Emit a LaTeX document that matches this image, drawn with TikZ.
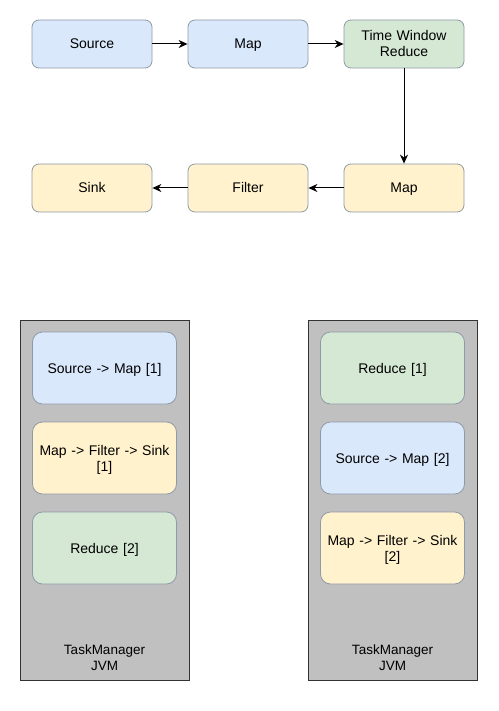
\documentclass[tikz,border=0pt]{standalone}
\usepackage{fontspec}
\setmainfont{Liberation Sans}
\usetikzlibrary{arrows.meta}
\definecolor{bluef}{HTML}{DAE8FC}
\definecolor{greenf}{HTML}{D5E8D4}
\definecolor{yellowf}{HTML}{FFF2CC}
\definecolor{boxd}{HTML}{8E9AA8}
\definecolor{tmf}{HTML}{C0C0C0}
\definecolor{tmd}{HTML}{333333}
\newcommand\mystrut{\rule[-4pt]{0pt}{18pt}}
\newcommand\mydepth{\rule[-4pt]{0pt}{4pt}}
\tikzset{
  op/.style={draw=boxd, line width=0.8pt, rounded corners=7pt, minimum width=120pt, minimum height=48pt, align=center, font=\fontsize{14}{16}\selectfont, inner sep=0pt, text width=116pt},
  slot/.style={draw=boxd, line width=0.8pt, rounded corners=10pt, minimum width=144pt, minimum height=72pt, align=center, font=\fontsize{14}{16}\selectfont, inner sep=0pt, text width=140pt},
  tm/.style={draw=tmd, line width=1pt, fill=tmf, minimum width=169pt, minimum height=360pt, inner sep=0pt},
  tmlabel/.style={align=center, font=\fontsize{13.5}{16}\selectfont, inner sep=0pt},
  flow/.style={-{Stealth[length=9pt,width=8pt]}, line width=1pt, black}
}
\begin{document}
\begin{tikzpicture}[x=1pt,y=-1pt]
\useasboundingbox (0,0) rectangle (498,711);
% top logical graph
\node[op, fill=bluef] (src) at (92,44) {\mystrut Source};
\node[op, fill=bluef] (map1) at (248,44) {\mystrut Map};
\node[op, fill=greenf] (twr) at (404,44) {\rule{0pt}{14pt}Time Window\\Reduce\mydepth};
\node[op, fill=yellowf] (map2) at (404,188) {\mystrut Map};
\node[op, fill=yellowf] (filt) at (248,188) {\mystrut Filter};
\node[op, fill=yellowf] (sink) at (92,188) {\mystrut Sink};
\draw[flow] (src) -- (map1);
\draw[flow] (map1) -- (twr);
\draw[flow] (twr) -- (map2);
\draw[flow] (map2) -- (filt);
\draw[flow] (filt) -- (sink);
% task managers
\node[tm] (tm1) at (104.5,500.5) {};
\node[tm] (tm2) at (392.5,500.5) {};
\node[tmlabel] (tm1l) at (104.5,658) {TaskManager\\JVM};
\node[tmlabel] (tm2l) at (392.5,658) {TaskManager\\JVM};
\node[slot, fill=bluef] (a1) at (104.5,368) {\mystrut Source -> Map [1]};
\node[slot, fill=yellowf] (a2) at (104.5,458) {\rule{0pt}{14pt}Map -> Filter -> Sink\\{}[1]\mydepth};
\node[slot, fill=greenf] (a3) at (104.5,548) {\mystrut Reduce [2]};
\node[slot, fill=greenf] (b1) at (392.5,368) {\mystrut Reduce [1]};
\node[slot, fill=bluef] (b2) at (392.5,458) {\mystrut Source -> Map [2]};
\node[slot, fill=yellowf] (b3) at (392.5,548) {\rule{0pt}{14pt}Map -> Filter -> Sink\\{}[2]\mydepth};
\end{tikzpicture}
\end{document}
